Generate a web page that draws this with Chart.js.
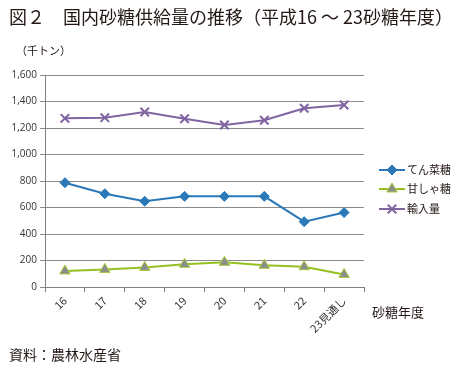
<!DOCTYPE html>
<html><head><meta charset="utf-8">
<script src="https://cdn.jsdelivr.net/npm/chart.js@4/dist/chart.umd.min.js"></script>
<style>
html,body{margin:0;padding:0;background:#fff;}
#wrap{position:relative;width:460px;height:372px;overflow:hidden;}
canvas{position:absolute;left:0;top:0;}
.t{position:absolute;font-family:"Noto Sans CJK JP",sans-serif;color:#231815;white-space:nowrap;}
</style></head><body>
<div id="wrap">
<canvas id="c" width="460" height="372"></canvas>
<div class="t" style="left:9px;top:3px;font-size:18px;">図２　国内砂糖供給量の推移（平成16 ～ 23砂糖年度）</div>
<div class="t" style="left:16px;top:42px;font-size:11px;">（千トン）</div>
<div class="t" style="left:372px;top:302px;font-size:13px;">砂糖年度</div>
<div class="t" style="left:9px;top:344px;font-size:14px;">資料：農林水産省</div>
</div>
<script>
const categories = ['16','17','18','19','20','21','22','23見通し'];
const beetSugar = [787, 704, 647, 684, 684, 684, 493, 562];
const caneSugar = [121, 133, 148, 171, 186, 164, 153, 95];
const imports = [1273, 1278, 1321, 1270, 1223, 1258, 1349, 1374];
const seriesNames = ['てん菜糖', '甘しゃ糖', '輸入量'];
const yTicks = [0, 200, 400, 600, 800, 1000, 1200, 1400, 1600];

const legendPlugin = {
  id: 'customLegend',
  afterDraw(chart) {
    const ctx = chart.ctx;
    const ys = [170, 189, 209];
    chart.data.datasets.forEach((ds, i) => {
      const y = ys[i];
      ctx.save();
      ctx.strokeStyle = ds.borderColor;
      ctx.lineWidth = 2;
      ctx.beginPath(); ctx.moveTo(379, y); ctx.lineTo(405, y); ctx.stroke();
      ctx.restore();
      ctx.save();
      ctx.fillStyle = ds.pointBackgroundColor;
      ctx.strokeStyle = ds.pointBorderColor;
      ctx.lineWidth = ds.pointBorderWidth;
      Chart.helpers.drawPoint(ctx, {pointStyle: ds.pointStyle, radius: ds.pointRadius, borderWidth: ds.pointBorderWidth}, 392, y);
      ctx.restore();
      ctx.save();
      ctx.fillStyle = '#231815';
      ctx.font = '11px "Noto Sans CJK JP"';
      ctx.textBaseline = 'middle';
      ctx.fillText(ds.label, 407, y);
      ctx.restore();
    });
  }
};

new Chart(document.getElementById('c'), {
  type: 'line',
  data: {
    labels: categories,
    datasets: [
      {label: seriesNames[0], data: beetSugar, borderColor: '#2a78b8', borderWidth: 2,
       pointStyle: 'rectRot', pointRadius: 5, pointBackgroundColor: '#2a78b8', pointBorderColor: '#2a78b8', pointBorderWidth: 1},
      {label: seriesNames[1], data: caneSugar, borderColor: '#95c11f', borderWidth: 2,
       pointStyle: 'triangle', pointRadius: 6, pointBackgroundColor: '#8c8c8c', pointBorderColor: '#a5cd3a', pointBorderWidth: 1},
      {label: seriesNames[2], data: imports, borderColor: '#8064a2', borderWidth: 2,
       pointStyle: 'crossRot', pointRadius: 6, pointBackgroundColor: '#8064a2', pointBorderColor: '#8064a2', pointBorderWidth: 2}
    ]
  },
  options: {
    responsive: false, animation: false,
    layout: {padding: {top: 75, right: 96, left: 0, bottom: 0}},
    plugins: {legend: {display: false}, tooltip: {enabled: false}},
    scales: {
      x: {
        offset: true,
        afterFit(s) { s.height = 85; },
        grid: {offset: true, drawOnChartArea: false, drawTicks: true, tickLength: 5, color: '#808080'},
        border: {color: '#808080'},
        ticks: {minRotation: 45, maxRotation: 45, color: '#333', font: {family: '"Noto Sans CJK JP"', size: 11}, padding: 2}
      },
      y: {
        min: 0, max: 1600,
        afterFit(s) { s.width = 45; },
        afterBuildTicks(s) { s.ticks = yTicks.map(v => ({value: v})); },
        grid: {color: '#8a8a8a', tickLength: 5},
        border: {color: '#808080'},
        ticks: {color: '#333', font: {family: '"Open Sans"', size: 10}, padding: 3,
          callback: v => v.toLocaleString('en-US')}
      }
    }
  },
  plugins: [legendPlugin]
});
</script>
</body></html>
